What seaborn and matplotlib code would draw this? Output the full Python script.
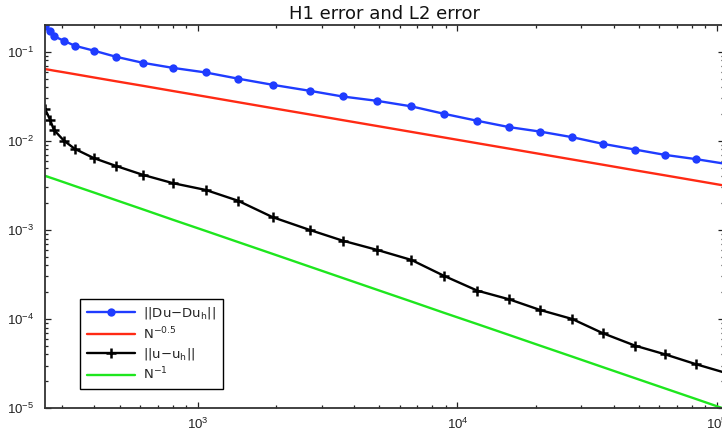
import matplotlib
matplotlib.use("Agg")
import matplotlib.pyplot as plt
import seaborn as sns
import pandas as pd
from matplotlib.ticker import LogLocator, LogFormatterSciNotation, NullFormatter

# ---- data ----
N = [258, 270, 279, 305, 336, 398, 484, 615, 802, 1073, 1427, 1943, 2697, 3611,
     4920, 6650, 8900, 11930, 15840, 20850, 27660, 36400, 48380, 63000, 83100, 110000]
h1_err = [0.196, 0.170, 0.150, 0.133, 0.117, 0.103, 0.088, 0.0752, 0.066, 0.0586,
          0.050, 0.0426, 0.0365, 0.0315, 0.0281, 0.0244, 0.0201, 0.0168, 0.01426,
          0.0127, 0.011, 0.00925, 0.00798, 0.00696, 0.00623, 0.00547]
ref_half = [0.064, 0.0626, 0.0615, 0.0589, 0.0561, 0.0515, 0.0467, 0.0415, 0.0363,
            0.0314, 0.0272, 0.0233, 0.0198, 0.0171, 0.01466, 0.01261, 0.0109,
            0.00941, 0.00817, 0.00712, 0.00618, 0.00539, 0.00467, 0.0041, 0.00357,
            0.0031]
l2_err = [0.0229, 0.0172, 0.0133, 0.01007, 0.00813, 0.0064, 0.00523, 0.00415,
          0.00335, 0.00281, 0.00213, 0.00139, 0.001, 0.000758, 0.000595, 0.00046,
          0.000304, 0.000208, 0.000166, 0.000126, 0.0001, 6.9e-5, 5.01e-5, 4.01e-5,
          3.1e-5, 2.44e-5]
ref_one = [0.00405, 0.00387, 0.00375, 0.00343, 0.00311, 0.00263, 0.00216, 0.0017,
           0.0013, 0.000974, 0.000732, 0.000538, 0.000387, 0.000289, 0.000212,
           0.000157, 0.000117, 8.76e-5, 6.6e-5, 5.01e-5, 3.78e-5, 2.87e-5, 2.16e-5,
           1.66e-5, 1.26e-5, 9.5e-6]
labels = ["||Du\u2212Du$_h$||", "N$^{-0.5}$", "||u\u2212u$_h$||", "N$^{-1}$"]
title = "H1 error and L2 error"

sns.set_style("ticks")
plt.rcParams["font.family"] = ["Liberation Sans", "DejaVu Sans"]
plt.rcParams["mathtext.fontset"] = "custom"
plt.rcParams["mathtext.rm"] = "Liberation Sans"
plt.rcParams["mathtext.it"] = "Liberation Sans:italic"
plt.rcParams["mathtext.default"] = "regular"

fig = plt.figure(figsize=(7.22, 4.34), dpi=100)
ax = fig.add_axes([45 / 722, 26 / 434, 679 / 722, 383 / 434])

df = pd.DataFrame({"N": N, "h1": h1_err, "half": ref_half, "l2": l2_err, "one": ref_one})

LW = 1.7
sns.lineplot(data=df, x="N", y="h1", ax=ax, color="#1f3cff", lw=LW, marker="o",
             markersize=6, markeredgewidth=0, estimator=None, sort=False,
             label=labels[0])
sns.lineplot(data=df, x="N", y="half", ax=ax, color="#ff2a14", lw=LW,
             estimator=None, sort=False, label=labels[1])
sns.lineplot(data=df, x="N", y="l2", ax=ax, color="black", lw=LW, marker="+",
             markersize=6.5, markeredgewidth=1.8, markeredgecolor="black",
             estimator=None, sort=False, label=labels[2])
sns.lineplot(data=df, x="N", y="one", ax=ax, color="#1ee61e", lw=LW,
             estimator=None, sort=False, label=labels[3])

ax.set_xscale("log")
ax.set_yscale("log")
ax.set_xlim(258, 1.064e5)
ax.set_ylim(1e-5, 0.2)
ax.set_xlabel("")
ax.set_ylabel("")
ax.set_title(title, fontsize=13, pad=4.5, family="DejaVu Sans", color="#111111")

ax.xaxis.set_major_locator(LogLocator(base=10))
ax.xaxis.set_minor_locator(LogLocator(base=10, subs=range(2, 10)))
ax.yaxis.set_major_locator(LogLocator(base=10))
ax.yaxis.set_minor_locator(LogLocator(base=10, subs=range(2, 10)))
ax.xaxis.set_major_formatter(LogFormatterSciNotation())
ax.xaxis.set_minor_formatter(NullFormatter())
ax.yaxis.set_minor_formatter(NullFormatter())

ax.tick_params(which="both", direction="in", top=True, right=True,
               labelsize=9.5, colors="#222222", width=0.9)
ax.tick_params(which="major", length=4)
ax.tick_params(which="minor", length=2.2)
ax.tick_params(axis="y", which="major", pad=8)
ax.tick_params(axis="x", which="major", pad=6)
for s in ax.spines.values():
    s.set_linewidth(1.3)
    s.set_color("#333333")

leg = ax.legend(loc="lower left", bbox_to_anchor=(0.0515, 0.0496), borderaxespad=0,
                prop={"family": "DejaVu Sans", "size": 9.5},
                handlelength=3.7, handletextpad=0.6, labelspacing=0.3,
                fancybox=False, framealpha=1, edgecolor="black", borderpad=0.5,
                numpoints=1)
leg.get_frame().set_linewidth(1.0)

fig.savefig("out.png", dpi=100)
